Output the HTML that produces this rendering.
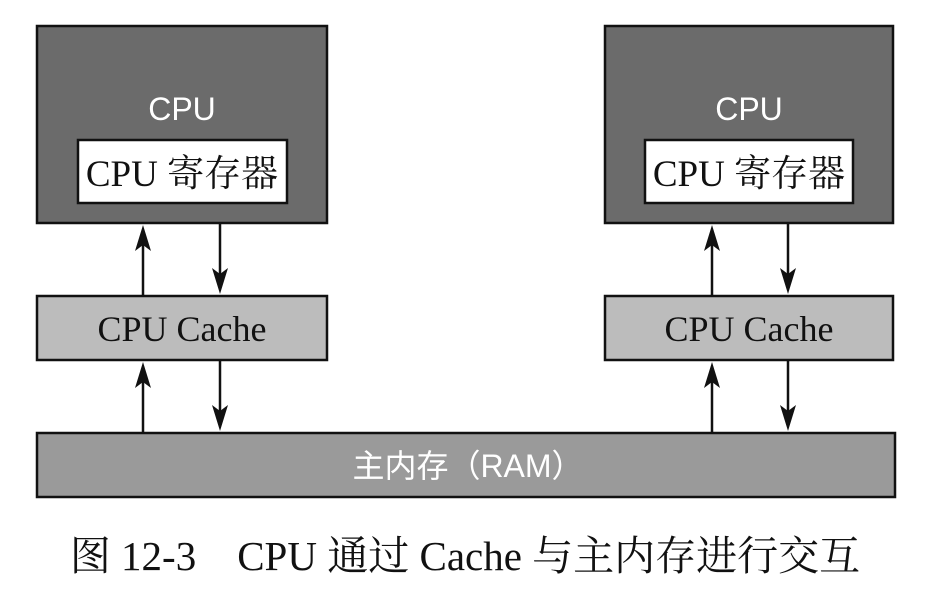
<!DOCTYPE html>
<html><head><meta charset="utf-8"><style>
html,body{margin:0;padding:0;background:#fff;width:939px;height:600px;overflow:hidden}
</style></head><body>
<svg width="939" height="600" viewBox="0 0 939 600" xmlns="http://www.w3.org/2000/svg">
<g stroke="#111" stroke-width="2.5">
<rect x="37" y="26" width="290" height="197" fill="#6b6b6b"/>
<rect x="605" y="26" width="288" height="197" fill="#6b6b6b"/>
<rect x="78" y="140" width="209" height="63" fill="#fff"/>
<rect x="645" y="140" width="208" height="63" fill="#fff"/>
<rect x="37" y="296" width="290" height="64" fill="#bcbcbc"/>
<rect x="605" y="296" width="288" height="64" fill="#bcbcbc"/>
<rect x="37" y="433" width="858" height="64" fill="#9a9a9a"/>
</g>
<g stroke="#111" stroke-width="2.5">
<line x1="143" y1="296" x2="143" y2="240"/>
<line x1="220" y1="223" x2="220" y2="280"/>
<line x1="143" y1="433" x2="143" y2="377"/>
<line x1="220" y1="360" x2="220" y2="417"/>
<line x1="712" y1="296" x2="712" y2="240"/>
<line x1="788" y1="223" x2="788" y2="280"/>
<line x1="712" y1="433" x2="712" y2="377"/>
<line x1="788" y1="360" x2="788" y2="417"/>
</g>
<g fill="#111">
<path d="M143,225 L151,251 L143,245 L135,251 z"/>
<path d="M143,362 L151,388 L143,382 L135,388 z"/>
<path d="M712,225 L720,251 L712,245 L704,251 z"/>
<path d="M712,362 L720,388 L712,382 L704,388 z"/>
<path d="M220,294 L228,268 L220,274 L212,268 z"/>
<path d="M220,431 L228,405 L220,411 L212,405 z"/>
<path d="M788,294 L796,268 L788,274 L780,268 z"/>
<path d="M788,431 L796,405 L788,411 L780,405 z"/>
</g>
<g font-family="'Liberation Sans','Noto Sans CJK SC',sans-serif" fill="#fff" font-size="32" text-anchor="middle">
<text x="182" y="120">CPU</text>
<text x="749" y="120">CPU</text>
<text x="468" y="477">主内存（RAM）</text>
</g>
<g font-family="'Liberation Serif','Noto Serif CJK SC',serif" fill="#111" text-anchor="middle">
<text x="182" y="186" font-size="37">CPU 寄存器</text>
<text x="749" y="186" font-size="37">CPU 寄存器</text>
<text x="182" y="341" font-size="36">CPU Cache</text>
<text x="749" y="341" font-size="36">CPU Cache</text>
<text x="465" y="570" font-size="41">图 12-3　CPU 通过 Cache 与主内存进行交互</text>
</g>
</svg>
</body></html>
